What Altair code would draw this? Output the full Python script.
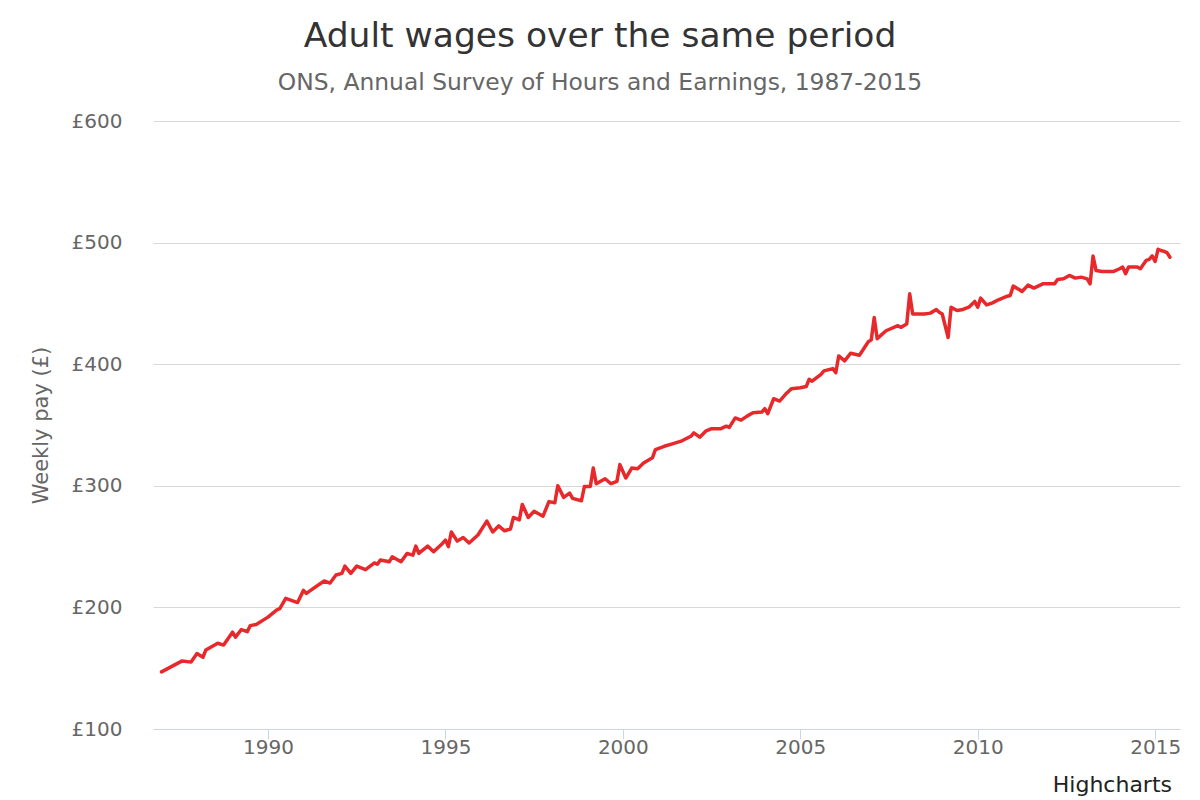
import altair as alt
import pandas as pd

# Monthly readings (YYYY-MM) and adult weekly pay (£)
months = [
    "1987-01", "1987-08", "1987-11", "1988-01", "1988-03", "1988-04", "1988-08", "1988-10",
    "1989-01", "1989-02", "1989-04", "1989-06", "1989-07", "1989-09",
    "1990-01", "1990-04", "1990-05", "1990-07", "1990-11",
    "1991-01", "1991-02", "1991-04", "1991-08", "1991-10", "1991-12",
    "1992-02", "1992-03", "1992-05", "1992-07", "1992-10",
    "1993-01", "1993-02", "1993-03", "1993-06", "1993-07", "1993-10", "1993-12",
    "1994-02", "1994-03", "1994-04", "1994-07", "1994-09", "1994-12",
    "1995-01", "1995-02", "1995-03", "1995-05", "1995-07", "1995-09", "1995-12",
    "1996-03", "1996-05", "1996-07", "1996-09", "1996-11", "1996-12",
    "1997-02", "1997-03", "1997-05", "1997-07", "1997-10", "1997-12",
    "1998-02", "1998-03", "1998-05", "1998-07", "1998-08", "1998-11", "1998-12",
    "1999-02", "1999-03", "1999-04", "1999-07", "1999-09", "1999-11", "1999-12",
    "2000-02", "2000-04", "2000-06", "2000-08", "2000-11", "2000-12",
    "2001-03", "2001-06", "2001-09", "2001-12",
    "2002-01", "2002-03", "2002-05", "2002-07", "2002-10", "2002-12",
    "2003-01", "2003-03", "2003-05", "2003-07", "2003-09", "2003-12",
    "2004-01", "2004-02", "2004-04", "2004-06", "2004-08", "2004-10",
    "2005-01", "2005-03", "2005-04", "2005-05", "2005-08", "2005-09", "2005-12",
    "2006-01", "2006-02", "2006-04", "2006-06", "2006-09", "2006-10", "2006-12",
    "2007-01", "2007-02", "2007-03", "2007-06", "2007-10", "2007-11",
    "2008-01", "2008-02", "2008-03", "2008-07", "2008-09", "2008-11", "2008-12",
    "2009-01", "2009-03", "2009-04", "2009-06", "2009-08", "2009-10", "2009-12",
    "2010-01", "2010-02", "2010-04", "2010-06", "2010-08", "2010-11", "2010-12",
    "2011-01", "2011-03", "2011-04", "2011-06", "2011-08", "2011-11",
    "2012-03", "2012-04", "2012-06", "2012-08", "2012-10", "2012-12",
    "2013-02", "2013-03", "2013-04", "2013-05", "2013-07", "2013-11",
    "2014-01", "2014-02", "2014-03", "2014-04", "2014-07", "2014-08", "2014-10", "2014-11", "2014-12",
    "2015-01", "2015-02", "2015-03", "2015-04", "2015-05", "2015-06",
]
pay = [
    147, 156, 155, 162, 159, 165, 170.5, 169,
    179.6, 175.5, 181.8, 180, 185, 186,
    192, 198, 199, 207.4, 204,
    214, 211.5, 215, 221.7, 220, 226.6,
    228, 234, 228, 234, 231,
    236.6, 235.5, 239, 237.5, 241.6, 237.5, 244.4,
    243, 250.4, 244.4, 250.4, 245.8, 252.6,
    255.4, 250, 262, 254.5, 257.5, 253, 259.5,
    271, 262, 267, 263, 264.5, 274,
    272, 284.7, 274, 279, 275, 287,
    286, 300, 290.5, 294, 289.7, 287.7, 299.4,
    299.4, 314.6, 301.7, 305.8, 301.7, 303.6, 317.4,
    306.4, 314.6, 314, 318.7, 323, 329.8,
    332.5, 334.7, 337, 340.7,
    343.5, 340, 344.9, 347, 346.9, 349,
    348, 355.8, 354, 357.3, 360, 360.6,
    363.4, 359.3, 371.6, 369.7, 375.2, 379.9,
    380.7, 381.6, 387.6, 386, 391.7, 394.5, 396.4,
    393, 406.8, 402.7, 409, 407.4, 411, 418.4,
    420, 438.4, 421, 427.5, 431.7, 430.3,
    433, 457.9, 441.3, 441.3, 442, 444.9, 442.7,
    441.3, 422, 446.9, 444.1, 445, 446.9, 451.6,
    446.9, 454.3, 448.8, 450.4, 453, 455.9, 456.5,
    464.2, 461.4, 459.8, 465, 462.6, 466.1,
    466.1, 469.7, 470.2, 473, 470.8, 471.6,
    470.2, 466.1, 489, 477.1, 476.3, 476.3,
    478.5, 479.9, 474.4, 479.9, 479.9, 478.5, 485.4, 486.2, 489,
    484.5, 494.5, 493.5, 492.8, 491.7, 488,
]
year_ticks = [1990, 1995, 2000, 2005, 2010, 2015]
pay_ticks = [100, 200, 300, 400, 500, 600]

df = pd.DataFrame({"month": months, "pay": pay})
df["t"] = df["month"].str[:4].astype(int) + (df["month"].str[5:7].astype(int) - 1) / 12.0

FONT = "DejaVu Sans"

line = alt.Chart(df).mark_line(
    color="#e8292c", strokeWidth=3.5, strokeJoin="round", strokeCap="round"
).encode(
    x=alt.X(
        "t:Q",
        scale=alt.Scale(domain=[1986.76, 2015.70], nice=False, zero=False),
        axis=alt.Axis(
            values=year_ticks, format="d", title=None, grid=False,
            domainColor="#ccd6eb", tickColor="#ccd6eb", tickSize=10,
            labelFontSize=20, labelColor="#666666", labelFont=FONT, labelPadding=-2,
            zindex=1,
        ),
    ),
    y=alt.Y(
        "pay:Q",
        scale=alt.Scale(domain=[100, 600], nice=False, zero=False),
        axis=alt.Axis(
            values=pay_ticks, labelExpr="'£' + datum.value", title="Weekly pay (£)",
            grid=True, gridColor="#d8d8d8", domain=False, ticks=False,
            labelFontSize=20, labelColor="#666666", labelFont=FONT, labelPadding=31,
            titleFontSize=21, titleColor="#666666", titleFont=FONT, titleFontWeight="normal",
            titleX=-106, titleY=304, titleAngle=-90, titleAlign="center", titleBaseline="alphabetic",
        ),
    ),
)

credit = alt.Chart(pd.DataFrame({"c": ["Highcharts"]})).mark_text(
    align="right", baseline="alphabetic", fontSize=22, font=FONT, color="#222222"
).encode(x=alt.value(1019), y=alt.value(671), text="c:N")

chart = alt.layer(line, credit).properties(
    width=1027,
    height=608,
    padding={"left": 153, "top": 121, "right": 20, "bottom": 71},
    autosize=alt.AutoSizeParams(type="none"),
    title=alt.TitleParams(
        text="Adult wages over the same period",
        subtitle="ONS, Annual Survey of Hours and Earnings, 1987-2015",
        anchor="middle", dx=-66.5, offset=16, subtitlePadding=17,
        font=FONT, fontSize=34.5, fontWeight="normal", color="#333333",
        subtitleFont=FONT, subtitleFontSize=23.4, subtitleColor="#666666",
    ),
).configure(background="white", view=alt.ViewConfig(stroke=None))

chart.save("out.html", embed_options={"renderer": "svg", "actions": False})
